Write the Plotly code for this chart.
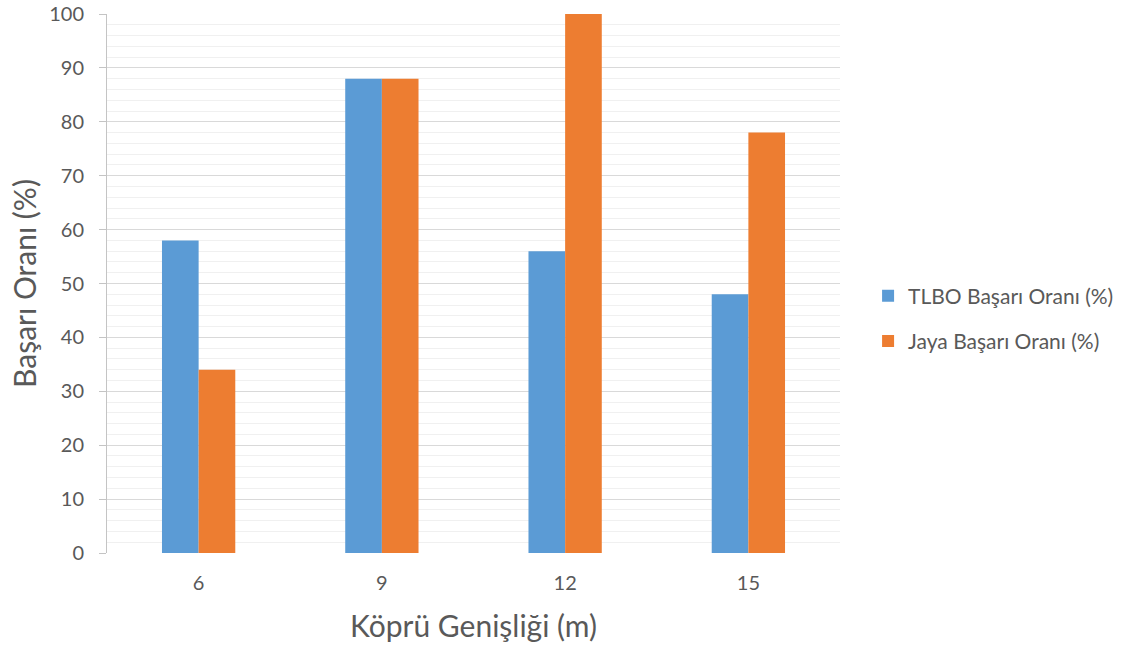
import plotly.graph_objects as go

# Bridge widths (m) and success rates of the two optimisers
widths = ["6", "9", "12", "15"]
tlbo_rate = [58, 88, 56, 48]
jaya_rate = [34, 88, 100, 78]

y_ticks = list(range(0, 101, 10))

TEXT = "#595959"
FONT = "Lato, 'Open Sans', sans-serif"

fig = go.Figure()
fig.add_trace(go.Bar(
    x=widths, y=tlbo_rate, name="TLBO Başarı Oranı (%)",
    marker=dict(color="#5B9BD5", line=dict(width=0)),
    legendgroup="a",
))
fig.add_trace(go.Bar(
    x=widths, y=jaya_rate, name="Jaya Başarı Oranı (%)",
    marker=dict(color="#ED7D31", line=dict(width=0)),
    legendgroup="b",
))

fig.update_layout(
    width=1123, height=649,
    margin=dict(l=107, r=283, t=14, b=96, autoexpand=False),
    paper_bgcolor="white", plot_bgcolor="white",
    barmode="group", bargap=0.6, bargroupgap=0,
    font=dict(family=FONT, color=TEXT, size=20),
    showlegend=True,
    legend=dict(
        xref="container", yref="container",
        x=0.773, y=0.509, xanchor="left", yanchor="middle",
        font=dict(size=21, color=TEXT, family=FONT),
        traceorder="grouped", tracegroupgap=15,
        bgcolor="rgba(0,0,0,0)",
    ),
    xaxis=dict(
        type="category", automargin=False,
        showgrid=False, showline=False, zeroline=False,
        ticks="", tickfont=dict(size=20, color=TEXT), ticklabelstandoff=16,
        title=dict(text="Köprü Genişliği (m)", font=dict(size=30, color=TEXT), standoff=22),
    ),
    yaxis=dict(
        range=[0, 100], tickvals=y_ticks, automargin=False,
        showgrid=True, gridcolor="#d9d9d9", gridwidth=1,
        minor=dict(dtick=2, showgrid=True, gridcolor="#f0f0f0", gridwidth=1),
        showline=True, linecolor="#c4c4c4", linewidth=1,
        ticks="outside", ticklen=7, tickcolor="#c4c4c4",
        zeroline=False, ticklabelstandoff=11,
        tickfont=dict(size=20, color=TEXT),
        title=dict(text="Başarı Oranı (%)", font=dict(size=30, color=TEXT), standoff=3),
    ),
)

fig.write_html("out.html")
